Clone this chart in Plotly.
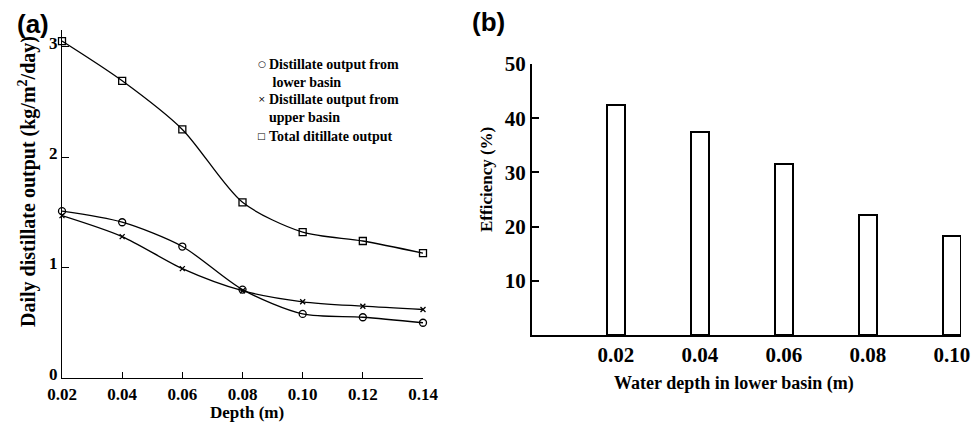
import plotly.graph_objects as go

# Panel (a) data
depth_a = [0.02, 0.04, 0.06, 0.08, 0.10, 0.12, 0.14]
lower_basin = [1.51, 1.41, 1.19, 0.80, 0.58, 0.55, 0.50]
upper_basin = [1.47, 1.28, 0.99, 0.79, 0.69, 0.65, 0.62]
total_output = [3.05, 2.69, 2.25, 1.59, 1.32, 1.24, 1.13]
xticks_a = ["0.02", "0.04", "0.06", "0.08", "0.10", "0.12", "0.14"]
legend_names = ["Distillate output from<br> lower basin",
                "Distillate output from<br>upper basin",
                "Total ditillate output"]
legend_symbols = ["○", "×", "□"]

# Panel (b) data
depth_b = [0.02, 0.04, 0.06, 0.08, 0.10]
efficiency = [42.4, 37.4, 31.5, 22.2, 18.2]
xticks_b = ["0.02", "0.04", "0.06", "0.08", "0.10"]

SERIF = "Liberation Serif"
SANS = "Liberation Sans"

# page body has an 8px margin; size the figure to fit the window
OFF = 8
W, H = 979 - OFF, 423 - OFF


def fx(px):
    return (px - OFF) / W


def fy(py):
    return 1 - (py - OFF) / H


fig = go.Figure()

line_style = dict(color="black", width=1.3, shape="spline", smoothing=0.8)
series = [
    (lower_basin, "circle-open", 7),
    (upper_basin, "x-thin-open", 5),
    (total_output, "square-open", 7),
]
for vals, sym, sz in series:
    fig.add_trace(go.Scatter(
        x=depth_a, y=vals, mode="lines+markers", line=line_style,
        marker=dict(symbol=sym, size=sz, color="black",
                    line=dict(color="black", width=1.3)),
        showlegend=False, cliponaxis=False, xaxis="x", yaxis="y"))

fig.add_trace(go.Bar(
    x=depth_b, y=efficiency, width=0.0042,
    marker=dict(color="white", line=dict(color="black", width=2)),
    showlegend=False, xaxis="x2", yaxis="y2"))

tickfont = dict(family=SERIF, size=17, color="black")
tickfont_b = dict(family=SERIF, size=21, color="black")

fig.update_layout(
    width=W, height=H,
    margin=dict(l=0, r=0, t=0, b=0),
    paper_bgcolor="white", plot_bgcolor="white",
    font=dict(family=SERIF, color="black"),
    showlegend=False,
    xaxis=dict(domain=[fx(62), fx(423)], range=[0.02, 0.14], automargin=False,
               tickvals=depth_a, ticktext=[f"<b>{t}</b>" for t in xticks_a],
               ticks="inside", ticklen=6, tickcolor="black",
               showline=True, linecolor="black", linewidth=1.3,
               showgrid=False, zeroline=False, tickfont=tickfont),
    yaxis=dict(domain=[fy(378), fy(30)], range=[0, 3.15], automargin=False,
               tickvals=[0, 1, 2, 3], ticktext=["<b>0</b>", "<b>1</b>", "<b>2</b>", "<b>3</b>"],
               ticks="inside", ticklen=7, tickcolor="black", ticklabelshift=-4,
               showline=True, linecolor="black", linewidth=1.3,
               showgrid=False, zeroline=False, tickfont=tickfont, anchor="x"),
    xaxis2=dict(domain=[fx(532), fx(961)], range=[0, 0.1022], automargin=False,
                tickvals=depth_b, ticktext=[f"<b>{t}</b>" for t in xticks_b],
                ticks="", showline=True, linecolor="black", linewidth=2,
                showgrid=False, zeroline=False, tickfont=tickfont_b, anchor="y2"),
    yaxis2=dict(domain=[fy(335), fy(64)], range=[0, 50], automargin=False,
                tickvals=[10, 20, 30, 40, 50],
                ticktext=[f"<b>{v}</b>" for v in [10, 20, 30, 40, 50]],
                ticks="inside", ticklen=7, tickcolor="black", tickwidth=1.5,
                showline=True, linecolor="black", linewidth=2,
                showgrid=False, zeroline=False, tickfont=tickfont_b, anchor="x2"),
    bargap=0,
)

ann = [
    dict(x=fx(33), y=fy(24), text="<b>(a)</b>",
         font=dict(family=SANS, size=26, color="black")),
    dict(x=fx(488), y=fy(22), text="<b>(b)</b>",
         font=dict(family=SANS, size=26, color="black")),
    dict(x=fx(27), y=fy(182), text="<b>Daily distillate output (kg/m<sup>2</sup>/day)</b>",
         textangle=-90, font=dict(family=SERIF, size=20, color="black")),
    dict(x=fx(247), y=fy(412), text="<b>Depth (m)</b>",
         font=dict(family=SERIF, size=17, color="black")),
    dict(x=fx(486), y=fy(180), text="<b>Efficiency (%)</b>",
         textangle=-90, font=dict(family=SERIF, size=17, color="black")),
    dict(x=fx(734), y=fy(383), text="<b>Water depth in lower basin (m)</b>",
         font=dict(family=SERIF, size=18, color="black")),
]
for a in ann:
    a.update(xanchor="center")

# legend built as text
leg_y = [64, 99, 136]
for name, sym, yy in zip(legend_names, legend_symbols, leg_y):
    ann.append(dict(x=fx(262), y=fy(yy), text=sym, xanchor="center",
                    font=dict(family="DejaVu Sans", size=9, color="black")))
    ann.append(dict(x=fx(267), y=fy(yy - 9), text=f"<b>{name}</b>",
                    xanchor="left", yanchor="top", align="left",
                    font=dict(family=SERIF, size=14, color="black")))
for a in ann:
    a.update(xref="paper", yref="paper", showarrow=False)
    a.setdefault("yanchor", "middle")
fig.update_layout(annotations=ann)

fig.write_html("out.html")
